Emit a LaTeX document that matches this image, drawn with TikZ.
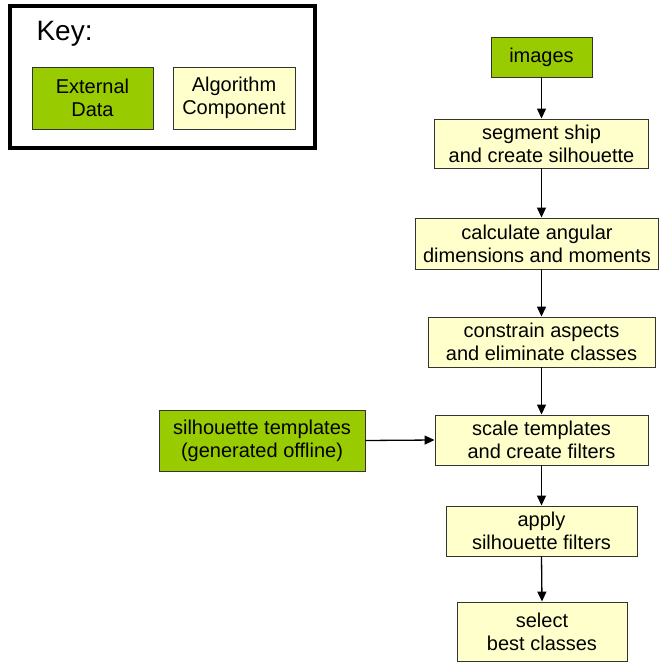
\documentclass[tikz,border=0pt]{standalone}
\usepackage{fontspec}
\setmainfont{Liberation Sans}
\usetikzlibrary{arrows.meta}
\definecolor{extgreen}{HTML}{99CC00}
\definecolor{algyellow}{HTML}{FFFFCC}
\tikzset{
  extbox/.style={draw=black!80, line width=0.9pt, fill=extgreen, align=center, inner sep=0pt, font=\fontsize{20}{23}\selectfont},
  algbox/.style={draw=black!80, line width=0.9pt, fill=algyellow, align=center, inner sep=0pt, font=\fontsize{20}{23}\selectfont},
  flowarrow/.style={line width=1.3pt, -{Triangle[length=10pt,width=9pt]}}
}
\begin{document}
\begin{tikzpicture}[x=1pt, y=-1pt]
\useasboundingbox (0,0) rectangle (661,662);

% Key
\draw[line width=3.3pt] (10,6) rectangle (315,148);
\node[anchor=west, font=\fontsize{28}{32}\selectfont] (keylabel) at (33,34) {Key:};
\node[extbox, minimum width=121pt, minimum height=62pt] (keyext) at (92.5,98) {External\\Data};
\node[algbox, minimum width=122pt, minimum height=62pt] (keyalg) at (234,98) {Algorithm\\Component};

% Flow
\node[extbox, minimum width=101pt, minimum height=40pt] (images) at (541.5,57) {images};
\node[algbox, minimum width=214pt, minimum height=49pt] (segment) at (541.5,143.5) {segment ship\\and create silhouette};
\node[algbox, minimum width=243pt, minimum height=51pt] (calc) at (537,243.5) {calculate angular\\dimensions and moments};
\node[algbox, minimum width=227pt, minimum height=50pt] (constrain) at (541.5,342) {constrain aspects\\and eliminate classes};
\node[algbox, minimum width=213pt, minimum height=50pt] (scale) at (541.5,440) {scale templates\\and create filters};
\node[algbox, minimum width=191pt, minimum height=50pt] (apply) at (541.5,531) {apply\\silhouette filters};
\node[algbox, minimum width=170pt, minimum height=59pt] (select) at (542,631.5) {select\\best classes};
\node[extbox, minimum width=206pt, minimum height=61pt] (templates) at (262,440.5) {silhouette templates\\(generated offline)};

% Arrows
\draw[flowarrow] (images.south) -- (segment.north);
\draw[flowarrow] (segment.south) -- (segment.south |- calc.north);
\draw[flowarrow] (segment.south |- calc.south) -- (constrain.north);
\draw[flowarrow] (constrain.south) -- (scale.north);
\draw[flowarrow] (scale.south) -- (apply.north);
\draw[flowarrow] (apply.south) -- (select.north);
\draw[flowarrow] (templates.east) -- (scale.west);
\end{tikzpicture}
\end{document}
